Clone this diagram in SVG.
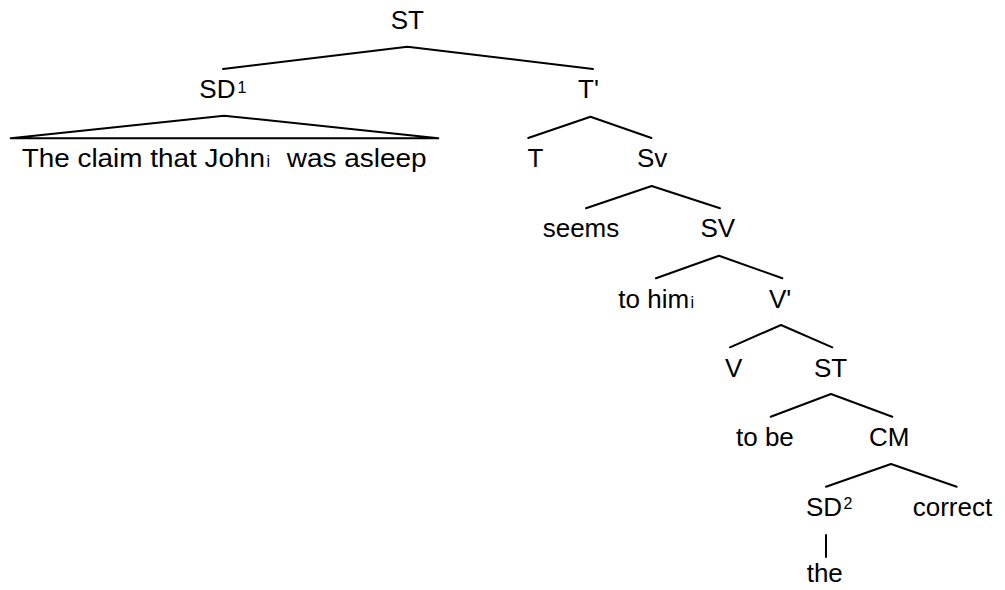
<svg xmlns="http://www.w3.org/2000/svg" width="1005" height="590" viewBox="0 0 1005 590">
<style>
  text { font-family: "Liberation Sans", Arial, sans-serif; font-size: 26px; fill: #000; }
  .sm { font-size: 16px; }
  .edge { stroke: #000; stroke-width: 2; fill: none; stroke-linecap: round; stroke-linejoin: round; }
</style>
<rect width="1005" height="590" fill="#fff"/>
<g id="connectors">
  <polyline class="edge" points="223,69 407.4,46.7 593,69"/>
  <polygon class="edge" points="224,115.7 438.3,138.3 10.7,138.3"/>
  <polyline class="edge" points="528.2,138 590.5,116.7 651.5,138"/>
  <polyline class="edge" points="586,208.3 651.7,186 720,208.3"/>
  <polyline class="edge" points="656,278.3 719,255.7 782.3,278.3"/>
  <polyline class="edge" points="730,347.3 781,325 832.3,347.3"/>
  <polyline class="edge" points="770.7,416.7 831,394 892.3,416.7"/>
  <polyline class="edge" points="826,486.7 891,464 956.7,486.7"/>
  <line class="edge" x1="826" y1="535" x2="826" y2="557"/>
</g>
<g id="node-ST"><text x="390.7" y="28.5">ST</text></g>
<g id="node-SD1"><text x="199.3" y="98.3">SD<tspan class="sm" x="237.5" y="93">1</tspan></text></g>
<g id="node-SD1-yield"><text y="167.3"><tspan x="21.7" textLength="243.3" lengthAdjust="spacingAndGlyphs">The claim that John</tspan><tspan class="sm" x="266.5">i</tspan><tspan x="286.7" textLength="140" lengthAdjust="spacingAndGlyphs">was asleep</tspan></text></g>
<g id="node-Tbar"><text x="578" y="98.3">T'</text></g>
<g id="node-T"><text x="527.5" y="167.3">T</text></g>
<g id="node-Sv"><text x="637" y="167.3">Sv</text></g>
<g id="node-seems"><text x="542.7" y="236.7">seems</text></g>
<g id="node-SV"><text x="700.5" y="236.7">SV</text></g>
<g id="node-tohim"><text x="618.3" y="308">to him<tspan class="sm" x="690.5">i</tspan></text></g>
<g id="node-Vbar"><text x="769" y="308">V'</text></g>
<g id="node-V"><text x="725" y="377">V</text></g>
<g id="node-ST2"><text x="814" y="377">ST</text></g>
<g id="node-tobe"><text x="736" y="446">to be</text></g>
<g id="node-CM"><text x="869" y="446">CM</text></g>
<g id="node-SD2"><text x="806" y="516">SD<tspan class="sm" x="843.5" y="508.5">2</tspan></text></g>
<g id="node-correct"><text x="912.7" y="516">correct</text></g>
<g id="node-the"><text x="806.7" y="581.7">the</text></g>
</svg>
